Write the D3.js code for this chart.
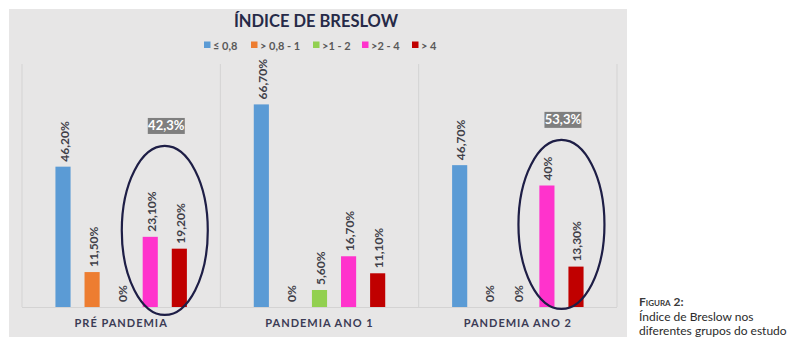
<!DOCTYPE html>
<html>
<head>
<meta charset="utf-8">
<script src="https://cdn.jsdelivr.net/npm/d3@7/dist/d3.min.js"></script>
<style>
  html, body { margin: 0; padding: 0; background: #ffffff; }
  svg { display: block; }
  text { font-family: Lato, "Open Sans", sans-serif; }
</style>
</head>
<body>
<svg id="chart" width="799" height="350"></svg>
<script>
// Breslow index distribution per study group (percent)
const categories = ["PRÉ PANDEMIA", "PANDEMIA ANO 1", "PANDEMIA ANO 2"];
const seriesNames = ["≤ 0,8", "> 0,8 - 1", ">1 - 2", ">2 - 4", "> 4"];
const seriesColors = ["#5b9bd5", "#ed7d31", "#92d050", "#ff33cc", "#c00000"];
const valuesLe08 = [46.2, 66.7, 46.7];
const values08to1 = [11.5, 0, 0];
const values1to2 = [0, 5.6, 0];
const values2to4 = [23.1, 16.7, 40];
const valuesGt4 = [19.2, 11.1, 13.3];
const yTicks = [0, 80];

// highlighted groups: thicker tumours (>2 mm) summed
const highlightGroups = [0, 2];
const highlightTotals = [42.3, 53.3];
const highlightLift = [25.2, 27.2];   // vertical centre of the ring, in % units

const seriesValues = [valuesLe08, values08to1, values1to2, values2to4, valuesGt4];

const svg = d3.select("#chart");

// chart panel
svg.append("rect").attr("x", 9).attr("y", 9).attr("width", 618).attr("height", 328)
  .attr("fill", "#e7e6e6");

const plot = { left: 22, right: 617, top: 64, bottom: 307 };

const x0 = d3.scaleBand().domain(categories).range([plot.left, plot.right]).paddingInner(0).paddingOuter(0);
const x1 = d3.scaleBand().domain(seriesNames).range([0, x0.bandwidth()]).paddingInner(0.48).paddingOuter(1.15);
const y = d3.scaleLinear().domain(d3.extent(yTicks)).range([plot.bottom, plot.top]);

// group separators
const sepX = categories.map(c => x0(c)).concat([plot.right]);
svg.append("g").selectAll("line").data(sepX).join("line")
  .attr("x1", d => d).attr("x2", d => d)
  .attr("y1", plot.top).attr("y2", plot.bottom)
  .attr("stroke", "#d4d3d3").attr("stroke-width", 1);

// baseline
svg.append("line").attr("x1", plot.left).attr("x2", plot.right)
  .attr("y1", y(0) + 0.5).attr("y2", y(0) + 0.5)
  .attr("stroke", "#d4d3d3").attr("stroke-width", 1);

const fmt = v => (Number.isInteger(v) ? String(v) : v.toFixed(2).replace(".", ",")) + "%";

const barData = [];
categories.forEach((c, gi) => {
  seriesNames.forEach((s, si) => {
    barData.push({ cat: c, series: s, color: seriesColors[si], value: seriesValues[si][gi] });
  });
});

const bars = svg.append("g");
bars.selectAll("rect").data(barData).join("rect")
  .attr("x", d => x0(d.cat) + x1(d.series))
  .attr("width", x1.bandwidth())
  .attr("y", d => y(d.value))
  .attr("height", d => y(0) - y(d.value))
  .attr("fill", d => d.color);

// rotated value labels
bars.selectAll("text").data(barData).join("text")
  .attr("transform", d => {
    const cx = x0(d.cat) + x1(d.series) + x1.bandwidth() / 2 + 1;
    const ty = y(d.value) - 5;
    return `translate(${cx},${ty}) rotate(-90)`;
  })
  .attr("text-anchor", "start")
  .attr("dominant-baseline", "central")
  .attr("font-size", 12)
  .attr("font-weight", 700)
  .attr("fill", "#404048")
  .text(d => fmt(d.value));

// category labels
svg.append("g").selectAll("text").data(categories).join("text")
  .attr("x", d => x0(d) + x0.bandwidth() / 2)
  .attr("y", 327)
  .attr("text-anchor", "middle")
  .attr("font-size", 11)
  .attr("font-weight", 700)
  .attr("letter-spacing", 1)
  .attr("fill", "#3b3b55")
  .text(d => d);

// highlight rings and totals
const sumSeries = [seriesNames[3], seriesNames[4]];
highlightGroups.forEach((gi, k) => {
  const c = categories[gi];
  const a = x0(c) + x1(sumSeries[0]) + x1.bandwidth() / 2;
  const b = x0(c) + x1(sumSeries[1]) + x1.bandwidth() / 2;
  const cx = (a + b) / 2;
  const cy = y(highlightLift[k]);
  const ry = 84.5;
  svg.append("ellipse").attr("cx", cx).attr("cy", cy).attr("rx", 43).attr("ry", ry)
    .attr("fill", "none").attr("stroke", "#1e1e46").attr("stroke-width", 2.2);
  const boxY = cy - ry - 12;
  svg.append("rect").attr("x", cx - 17).attr("y", boxY - 16).attr("width", 37).attr("height", 16)
    .attr("fill", "#7f7f7f");
  svg.append("text").attr("x", cx + 1.5).attr("y", boxY - 3.5)
    .attr("text-anchor", "middle").attr("font-size", 13).attr("font-weight", 700)
    .attr("fill", "#ffffff").text(highlightTotals[k].toFixed(1).replace(".", ",") + "%");
});

// title
svg.append("text").attr("x", 316).attr("y", 27).attr("text-anchor", "middle")
  .attr("font-size", 16.5).attr("font-weight", 700).attr("fill", "#262a48")
  .text("ÍNDICE DE BRESLOW");

// legend
const legendX = [204, 251, 313, 362, 412];
const legend = svg.append("g").selectAll("g").data(seriesNames).join("g")
  .attr("transform", (d, i) => `translate(${legendX[i]},45)`);
legend.append("rect").attr("x", 0).attr("y", -3.5).attr("width", 6.5).attr("height", 6.5)
  .attr("fill", (d, i) => seriesColors[i]);
legend.append("text").attr("x", 9).attr("y", 0).attr("dominant-baseline", "central")
  .attr("font-size", 11).attr("font-weight", 700).attr("fill", "#595959").text(d => d);

// caption
const cap = svg.append("g").attr("fill", "#2b2b2b");
cap.append("text").attr("x", 639).attr("y", 306).attr("font-size", 12).attr("font-weight", 700)
  .attr("font-variant", "small-caps").attr("fill", "#3a3a3a").text("Figura 2:");
cap.append("text").attr("x", 639).attr("y", 320.5).attr("font-size", 12).text("Índice de Breslow nos");
cap.append("text").attr("x", 639).attr("y", 334.5).attr("font-size", 12).text("diferentes grupos do estudo");
</script>
</body>
</html>
